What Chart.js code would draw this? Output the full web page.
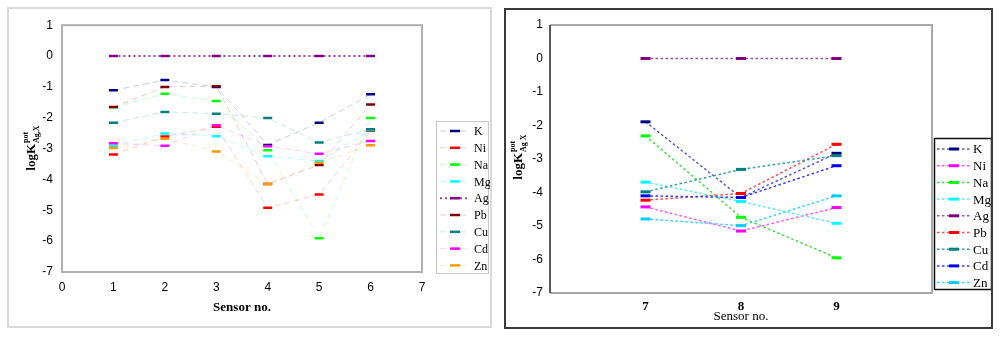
<!DOCTYPE html>
<html>
<head>
<meta charset="utf-8">
<script src="https://cdn.jsdelivr.net/npm/chart.js@4.4.1/dist/chart.umd.min.js"></script>
<style>
  html, body { margin: 0; padding: 0; background: #fff; width: 1000px; height: 337px; overflow: hidden; }
  .panel { position: absolute; box-sizing: border-box; }
  #leftBox  { left: 7px;   top: 7px; width: 485px; height: 321px; border: 2px solid #d9d9d9; }
  #rightBox { left: 504px; top: 8px; width: 489px; height: 321px; border: 2px solid #3a3a3a; }
  canvas { display: block; }
</style>
</head>
<body>
<div class="panel" id="leftBox"><canvas id="leftChart" width="481" height="317"></canvas></div>
<div class="panel" id="rightBox"><canvas id="rightChart" width="485" height="317"></canvas></div>

<script>
// ── SHARED ────────────────────────────────────────────
const ions   = ["K", "Ni", "Na", "Mg", "Ag", "Pb", "Cu", "Cd", "Zn"];
const yTicks = [1, 0, -1, -2, -3, -4, -5, -6, -7];

// ── LEFT PANEL: sensors 1-6 ───────────────────────────
const leftSensors = [1, 2, 3, 4, 5, 6];
const leftXTicks  = [0, 1, 2, 3, 4, 5, 6, 7];
const leftK  = [-1.11, -0.78, -1.00, -2.88, -2.16, -1.24];
const leftNi = [-3.19, -2.61, -2.29, -4.92, -4.49, -2.42];
const leftNa = [-1.66, -1.22, -1.46, -3.05, -5.91, -2.01];
const leftMg = [-2.91, -2.51, -2.60, -3.25, -3.40, -2.40];
const leftAg = [0, 0, 0, 0, 0, 0];
const leftPb = [-1.65, -1.00, -0.98, -4.15, -3.53, -1.57];
const leftCu = [-2.16, -1.81, -1.87, -2.01, -2.80, -2.37];
const leftCd = [-2.83, -2.91, -2.24, -2.92, -3.17, -2.75];
const leftZn = [-2.98, -2.68, -3.09, -4.15, -3.46, -2.89];

// ── RIGHT PANEL: sensors 7-9 ──────────────────────────
const rightSensors = [7, 8, 9];
const rightXTicks  = [7, 8, 9];
const rightK  = [-1.89, -4.15, -2.83];
const rightNi = [-4.43, -5.15, -4.45];
const rightNa = [-2.31, -4.74, -5.95];
const rightMg = [-3.69, -4.27, -4.92];
const rightAg = [0, 0, 0];
const rightPb = [-4.23, -4.03, -2.56];
const rightCu = [-3.98, -3.31, -2.90];
const rightCd = [-4.10, -4.15, -3.20];
const rightZn = [-4.79, -4.99, -4.10];

// ── STYLES ────────────────────────────────────────────
const leftMarker = ["#000080", "#ff0000", "#00ff00", "#00ffff", "#800080", "#800000", "#008080", "#ff00ff", "#ff9900"];
const leftLine   = ["rgba(0,0,128,0.2)", "rgba(255,0,0,0.2)", "rgba(0,255,0,0.22)", "rgba(0,255,255,0.28)",
                    "#a040a0", "rgba(128,0,0,0.2)", "rgba(0,128,128,0.2)", "rgba(255,0,255,0.2)", "rgba(255,153,0,0.22)"];
const rightMarker = ["#000080", "#ff00ff", "#00ff00", "#00ffff", "#800080", "#ff0000", "#008080", "#0000ff", "#00ccff"];
const rightLine   = ["#5a5ac0", "#ff4cff", "#40e040", "#50f0f0", "#a050a0", "#ff4a4a", "#30a0a0", "#3a3aff", "#30d8ff"];

// later series sit on top, like the original spreadsheet chart
function buildSets(sensors, series, lineCols, markCols, dashFn, widthFn, radius, markW) {
  return series.map((vals, i) => ({
    label: ions[i],
    order: series.length - i,
    data: sensors.map((s, j) => ({ x: s, y: vals[j] })),
    borderColor: lineCols[i],
    borderDash: dashFn(i),
    borderWidth: widthFn(i),
    pointStyle: "line",
    pointRadius: radius,
    pointBorderWidth: markW,
    pointBorderColor: markCols[i],
    pointBackgroundColor: markCols[i],
    fill: false,
    tension: 0,
  }));
}

const leftSets = buildSets(leftSensors,
  [leftK, leftNi, leftNa, leftMg, leftAg, leftPb, leftCu, leftCd, leftZn],
  leftLine, leftMarker, i => i === 4 ? [2, 3] : [6, 4], i => i === 4 ? 2 : 1, 4.5, 2.5);

const rightSets = buildSets(rightSensors,
  [rightK, rightNi, rightNa, rightMg, rightAg, rightPb, rightCu, rightCd, rightZn],
  rightLine, rightMarker, () => [2.5, 2.5], () => 1.5, 5, 3);

// ── DRAW HELPERS ──────────────────────────────────────
function yTitle(ctx, cx, cy, sub, big, small) {
  ctx.save();
  ctx.translate(cx, cy);
  ctx.rotate(-Math.PI / 2);
  ctx.fillStyle = "#000";
  ctx.textBaseline = "alphabetic";
  ctx.font = big;
  const wMain = ctx.measureText("logK").width;
  ctx.font = small;
  const wSmall = Math.max(ctx.measureText("pot").width, ctx.measureText(sub).width);
  let x = -(wMain + wSmall + 1) / 2;
  ctx.font = big;
  ctx.fillText("logK", x, 4);
  x += wMain + 1;
  ctx.font = small;
  ctx.fillText("pot", x, -3);
  ctx.fillText(sub, x, 8);
  ctx.restore();
}

function drawLegend(chart, c) {
  const ctx = chart.ctx;
  ctx.save();
  ctx.fillStyle = "#fff";
  ctx.fillRect(c.bx, c.by, c.bw, c.bh);
  ctx.strokeStyle = c.boxColor;
  ctx.lineWidth = c.boxLine;
  ctx.strokeRect(c.bx, c.by, c.bw, c.bh);
  chart.data.datasets.forEach((ds, i) => {
    const y = c.y0 + i * c.dy;
    ctx.setLineDash(ds.borderDash);
    ctx.strokeStyle = ds.borderColor;
    ctx.lineWidth = ds.borderWidth;
    ctx.beginPath(); ctx.moveTo(c.x0, y); ctx.lineTo(c.x1, y); ctx.stroke();
    ctx.setLineDash([]);
    ctx.strokeStyle = ds.pointBorderColor;
    ctx.lineWidth = ds.pointBorderWidth;
    ctx.beginPath(); ctx.moveTo(c.mx - 5, y); ctx.lineTo(c.mx + 5, y); ctx.stroke();
    ctx.fillStyle = "#000";
    ctx.font = c.font;
    ctx.textBaseline = "middle";
    ctx.fillText(ds.label, c.tx, y + 1);
  });
  ctx.restore();
}

// ── LEFT CHART ────────────────────────────────────────
const leftDecor = {
  id: "leftDecor",
  beforeDatasetsDraw(chart) {
    const { ctx, chartArea: a } = chart;
    ctx.save();
    ctx.strokeStyle = "#b0b0b0";
    ctx.lineWidth = 2;
    ctx.strokeRect(a.left, a.top, a.right - a.left, a.bottom - a.top);
    ctx.restore();
  },
  afterDraw(chart) {
    const ctx = chart.ctx;
    yTitle(ctx, 22, 139, "Ag,X", "bold 13px 'Liberation Serif'", "bold 8px 'Liberation Serif'");
    ctx.save();
    ctx.font = "bold 13px 'Liberation Serif'";
    ctx.fillStyle = "#000";
    ctx.textAlign = "center";
    ctx.textBaseline = "middle";
    ctx.fillText("Sensor no.", 233, 299);
    ctx.restore();
    drawLegend(chart, {
      bx: 427.5, by: 112.5, bw: 52, bh: 152, boxColor: "#c8c8c8", boxLine: 1,
      y0: 122, dy: 16.8, x0: 431, x1: 461, mx: 446, tx: 465,
      font: "12px 'Liberation Serif'",
    });
  },
};

new Chart(document.getElementById("leftChart").getContext("2d"), {
  type: "line",
  data: { datasets: leftSets },
  options: {
    responsive: false,
    animation: false,
    devicePixelRatio: 1,
    layout: { padding: { left: 0, top: 15, right: 68, bottom: 0 } },
    plugins: { legend: { display: false }, tooltip: { enabled: false } },
    scales: {
      x: {
        type: "linear",
        min: leftXTicks[0], max: leftXTicks[leftXTicks.length - 1],
        ticks: { stepSize: 1, padding: 8, color: "#000", font: { family: "'Liberation Sans'", size: 12 } },
        grid: { display: false, drawTicks: false },
        border: { display: false },
        afterFit: s => { s.height = 54; },
      },
      y: {
        min: yTicks[yTicks.length - 1], max: yTicks[0],
        ticks: { stepSize: 1, padding: 9, color: "#000", font: { family: "'Liberation Sans'", size: 12 } },
        grid: { display: false, drawTicks: false },
        border: { display: false },
        afterFit: s => { s.width = 53; },
      },
    },
  },
  plugins: [leftDecor],
});

// ── RIGHT CHART ───────────────────────────────────────
const rightDecor = {
  id: "rightDecor",
  beforeDatasetsDraw(chart) {
    const { ctx, chartArea: a } = chart;
    ctx.save();
    ctx.strokeStyle = "#a8a8a8";
    ctx.lineWidth = 2;
    ctx.beginPath();
    ctx.moveTo(a.left, a.top); ctx.lineTo(a.right, a.top);
    ctx.lineTo(a.right, a.bottom); ctx.lineTo(a.left, a.bottom);
    ctx.stroke();
    ctx.strokeStyle = "#222";
    ctx.lineWidth = 1.5;
    ctx.beginPath(); ctx.moveTo(a.left, a.top); ctx.lineTo(a.left, a.bottom); ctx.stroke();
    ctx.restore();
  },
  afterDraw(chart) {
    const ctx = chart.ctx;
    yTitle(ctx, 12, 147, "Ag X", "bold 13px 'Liberation Serif'", "bold 8px 'Liberation Serif'");
    ctx.save();
    ctx.font = "13px 'Liberation Serif'";
    ctx.fillStyle = "#000";
    ctx.textAlign = "center";
    ctx.textBaseline = "middle";
    ctx.fillText("Sensor no.", 235, 307);
    ctx.restore();
    drawLegend(chart, {
      bx: 428.5, by: 128.5, bw: 57, bh: 151, boxColor: "#111", boxLine: 1.5,
      y0: 139, dy: 16.7, x0: 431, x1: 466, mx: 448, tx: 467,
      font: "13px 'Liberation Serif'",
    });
  },
};

new Chart(document.getElementById("rightChart").getContext("2d"), {
  type: "line",
  data: { datasets: rightSets },
  options: {
    responsive: false,
    animation: false,
    devicePixelRatio: 1,
    layout: { padding: { left: 0, top: 15, right: 59, bottom: 0 } },
    plugins: { legend: { display: false }, tooltip: { enabled: false } },
    scales: {
      x: {
        type: "linear",
        min: rightXTicks[0] - 1, max: rightXTicks[rightXTicks.length - 1] + 1,
        ticks: {
          stepSize: 1, padding: 6, color: "#000",
          font: { family: "'Liberation Serif'", size: 13, weight: "bold" },
          callback: v => rightXTicks.includes(v) ? String(v) : "",
        },
        grid: { display: false, drawTicks: false },
        border: { display: false },
        afterFit: s => { s.height = 34; },
      },
      y: {
        min: yTicks[yTicks.length - 1], max: yTicks[0],
        ticks: { stepSize: 1, padding: 7, color: "#000", font: { family: "'Liberation Sans'", size: 12 } },
        grid: { display: false, drawTicks: false },
        border: { display: false },
        afterFit: s => { s.width = 44; },
      },
    },
  },
  plugins: [rightDecor],
});
</script>
</body>
</html>
